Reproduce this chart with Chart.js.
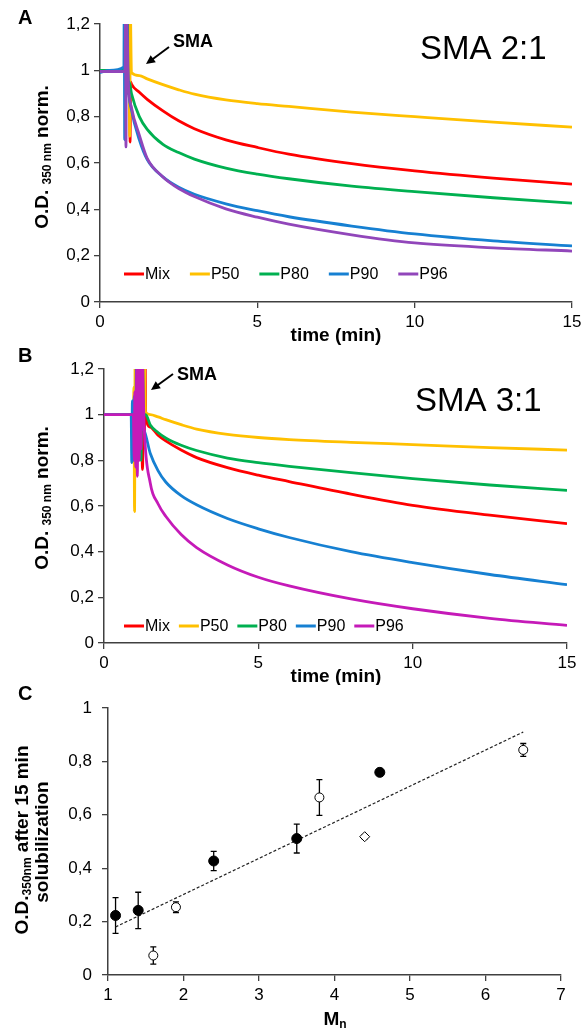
<!DOCTYPE html>
<html>
<head>
<meta charset="utf-8">
<script src="https://cdn.jsdelivr.net/npm/chart.js@4.4.1/dist/chart.umd.min.js"></script>
<style>
  body { margin: 0; background: #fff; }
  #wrap { position: relative; width: 588px; height: 1032px; }
  canvas { position: absolute; left: 0; }
</style>
</head>
<body>
<div id="wrap">
  <canvas id="chartA" width="588" height="345" style="top:0"></canvas>
  <canvas id="chartB" width="588" height="340" style="top:345px"></canvas>
  <canvas id="chartC" width="588" height="347" style="top:685px"></canvas>
</div>
<script>
// ---- panel A: SMA 2:1 (time in min, normalised O.D.)
const mixAT = [0, 0.9, 0.93, 0.955, 0.975, 1.0, 1.25, 1.5, 2, 2.5, 3, 4, 5, 6, 8, 10, 12.5, 15];
const mixAY = [1.0, 1.0, 1.3, 0.69, 0.95, 0.94, 0.905, 0.875, 0.825, 0.782, 0.748, 0.70, 0.667, 0.638, 0.597, 0.566, 0.535, 0.509];
const p50AT = [0, 0.9, 0.92, 0.945, 0.96, 1.0, 1.25, 1.5, 2, 2.5, 3, 4, 5, 6, 8, 10, 12.5, 15];
const p50AY = [1.0, 1.0, 1.3, 0.715, 1.3, 0.99, 0.977, 0.963, 0.938, 0.916, 0.897, 0.872, 0.856, 0.844, 0.82, 0.80, 0.776, 0.755];
const p80AT = [0, 0.85, 0.87, 0.89, 0.93, 1.0, 1.25, 1.5, 2, 2.5, 3, 4, 5, 6, 8, 10, 12.5, 15];
const p80AY = [1.0, 1.0, 1.3, 0.9, 0.95, 0.90, 0.80, 0.745, 0.68, 0.645, 0.617, 0.578, 0.552, 0.532, 0.50, 0.476, 0.45, 0.427];
const p90AT = [0, 0.3, 0.76, 0.77, 0.785, 0.80, 0.9, 1.0, 1.25, 1.5, 2, 2.5, 3, 4, 5, 6, 8, 10, 12.5, 15];
const p90AY = [0.99, 1.0, 1.015, 1.3, 0.70, 1.3, 0.93, 0.83, 0.70, 0.615, 0.54, 0.495, 0.465, 0.424, 0.394, 0.368, 0.328, 0.294, 0.264, 0.242];
const p96AT = [0, 0.8, 0.81, 0.825, 0.84, 0.9, 1.0, 1.25, 1.5, 2, 2.5, 3, 4, 5, 6, 8, 10, 12.5, 15];
const p96AY = [0.995, 0.995, 1.3, 0.67, 1.3, 0.95, 0.84, 0.72, 0.62, 0.54, 0.49, 0.455, 0.402, 0.366, 0.336, 0.29, 0.255, 0.234, 0.22];

// ---- panel B: SMA 3:1
const mixBT = [0, 1.2, 1.25, 1.28, 1.31, 1.33, 1.35, 1.5, 1.75, 2, 2.5, 3, 4, 5, 6, 8, 10, 12.5, 15];
const mixBY = [1.0, 1.0, 0.76, 1.3, 0.92, 1.3, 1.0, 0.945, 0.91, 0.885, 0.845, 0.812, 0.768, 0.735, 0.707, 0.652, 0.603, 0.56, 0.523];
const p50BT = [0, 0.95, 0.97, 0.99, 1.01, 1.04, 1.2, 1.25, 1.3, 1.35, 1.5, 1.75, 2, 2.5, 3, 4, 5, 6, 8, 10, 12.5, 15];
const p50BY = [1.0, 1.0, 1.12, 0.575, 1.3, 0.95, 1.3, 0.95, 1.3, 1.01, 1.0, 0.99, 0.978, 0.956, 0.937, 0.914, 0.90, 0.891, 0.879, 0.869, 0.856, 0.845];
const p80BT = [0, 1.15, 1.2, 1.24, 1.28, 1.35, 1.5, 1.75, 2, 2.5, 3, 4, 5, 6, 8, 10, 12.5, 15];
const p80BY = [1.0, 1.0, 0.8, 1.3, 1.0, 1.0, 0.955, 0.922, 0.898, 0.866, 0.843, 0.81, 0.79, 0.774, 0.746, 0.72, 0.692, 0.668];
const p90BT = [0, 0.88, 0.9, 0.92, 0.95, 0.98, 1.02, 1.06, 1.1, 1.15, 1.2, 1.3, 1.5, 1.75, 2, 2.5, 3, 4, 5, 6, 8, 10, 12.5, 15];
const p90BY = [1.0, 1.0, 0.79, 1.06, 0.8, 1.08, 0.85, 1.3, 0.88, 1.3, 0.98, 0.93, 0.83, 0.755, 0.705, 0.645, 0.605, 0.545, 0.50, 0.462, 0.40, 0.352, 0.30, 0.256];
const p96BT = [0, 0.95, 0.98, 1.0, 1.03, 1.06, 1.08, 1.11, 1.14, 1.17, 1.2, 1.23, 1.3, 1.5, 1.75, 2, 2.5, 3, 4, 5, 6, 8, 10, 12.5, 15];
const p96BY = [1.0, 1.0, 0.8, 1.1, 0.77, 1.2, 0.73, 1.3, 0.8, 1.3, 0.85, 1.3, 0.95, 0.70, 0.61, 0.555, 0.475, 0.418, 0.342, 0.288, 0.25, 0.193, 0.15, 0.108, 0.077];

// ---- panel C: O.D. after 15 min vs Mn
const filledMn = [1.1, 1.4, 2.4, 3.5, 4.6];
const filledOD = [0.223, 0.242, 0.427, 0.511, 0.759];
const filledErr = [0.067, 0.068, 0.036, 0.054, 0];
const openMn = [1.6, 1.9, 3.8, 6.5];
const openOD = [0.073, 0.254, 0.665, 0.843];
const openErr = [0.032, 0.02, 0.067, 0.024];
const diamondMn = [4.4];
const diamondOD = [0.518];
const diamondErr = [0.008];
const trendMn = [1.1, 6.5];
const trendOD = [0.18, 0.91];

const labels = ['Mix', 'P50', 'P80', 'P90', 'P96'];
const colorsA = ['#FF0000', '#FFC000', '#00B050', '#1680D2', '#9146BA'];
const colorsB = ['#FF0000', '#FFC000', '#00B050', '#1680D2', '#C51AB8'];

const FONT = '"Liberation Sans", Arial, sans-serif';
const fmt = v => (Math.round(v * 10) / 10).toString().replace('.', ',');
const pts = (xs, ys) => xs.map((x, i) => ({ x, y: ys[i] }));

// draw a run of text pieces (for subscripts), optionally rotated
function rich(ctx, parts, x, y, angle) {
  ctx.save();
  ctx.translate(x, y);
  ctx.rotate(angle || 0);
  ctx.textBaseline = 'middle';
  ctx.textAlign = 'left';
  ctx.fillStyle = '#000';
  let w = 0;
  parts.forEach(p => { ctx.font = p.f; w += ctx.measureText(p.t).width; });
  let cx = -w / 2;
  parts.forEach(p => { ctx.font = p.f; ctx.fillText(p.t, cx, p.dy || 0); cx += ctx.measureText(p.t).width; });
  ctx.restore();
}

function arrow(ctx, x1, y1, x2, y2) {
  const a = Math.atan2(y2 - y1, x2 - x1);
  ctx.save();
  ctx.strokeStyle = '#000'; ctx.fillStyle = '#000'; ctx.lineWidth = 2;
  ctx.beginPath(); ctx.moveTo(x1, y1); ctx.lineTo(x2 - 6 * Math.cos(a), y2 - 6 * Math.sin(a)); ctx.stroke();
  ctx.beginPath();
  ctx.moveTo(x2, y2);
  ctx.lineTo(x2 - 10 * Math.cos(a - 0.45), y2 - 10 * Math.sin(a - 0.45));
  ctx.lineTo(x2 - 10 * Math.cos(a + 0.45), y2 - 10 * Math.sin(a + 0.45));
  ctx.closePath(); ctx.fill();
  ctx.restore();
}

function decor(d) {
  return {
    id: 'decor',
    afterDraw(chart) {
      const ctx = chart.ctx;
      ctx.save();
      ctx.fillStyle = '#000';
      ctx.textBaseline = 'middle';
      ctx.font = 'bold 20px ' + FONT;
      ctx.fillText(d.letter, 18, d.letterY);
      if (d.sma) {
        ctx.font = 'bold 18px ' + FONT;
        ctx.fillText('SMA', d.sma[0], d.sma[1]);
        arrow(ctx, d.arrow[0], d.arrow[1], d.arrow[2], d.arrow[3]);
        ctx.font = '33px ' + FONT;
        ctx.fillText(d.ratio, d.ratioPos[0], d.ratioPos[1]);
      }
      // legend inside plot area
      if (d.legend) {
        let x = d.legend.x;
        const y = d.legend.y;
        ctx.font = '16px ' + FONT;
        chart.data.datasets.forEach(ds => {
          ctx.strokeStyle = ds.borderColor; ctx.lineWidth = 3;
          ctx.beginPath(); ctx.moveTo(x, y); ctx.lineTo(x + 20, y); ctx.stroke();
          ctx.fillStyle = '#000';
          ctx.fillText(ds.label, x + 21, y + 1);
          x += 21 + ctx.measureText(ds.label).width + d.legend.gap;
        });
      }
      ctx.restore();
      d.titles.forEach(t => rich(ctx, t.parts, t.x, t.y, t.a));
    }
  };
}

function axisStyle(extra) {
  return Object.assign({
    grid: { drawOnChartArea: false, tickLength: 6, color: '#404040', lineWidth: 1.3 },
    border: { color: '#404040', width: 1.5 },
  }, extra);
}

function timeChart(id, T, Y, colors, d, pad) {
  const datasets = labels.map((l, i) => ({
    label: l,
    data: pts(T[i], Y[i]),
    borderColor: colors[i],
    borderWidth: 2.8,
    pointRadius: 0,
    cubicInterpolationMode: 'monotone',
    order: 5 - i
  }));
  return new Chart(document.getElementById(id), {
    type: 'line',
    data: { datasets },
    options: {
      responsive: false, animation: false,
      layout: { padding: { left: 0, right: pad.right, top: 24, bottom: 0 } },
      plugins: { legend: { display: false }, tooltip: { enabled: false } },
      scales: {
        x: axisStyle({
          type: 'linear', min: 0, max: 15,
          ticks: { stepSize: 5, padding: 4, color: '#000', font: { family: FONT, size: 17 } },
          afterFit: s => { s.height = pad.xh; }
        }),
        y: axisStyle({
          min: 0, max: 1.2,
          ticks: { stepSize: 0.2, padding: 4, color: '#000', callback: fmt, font: { family: FONT, size: 17 } },
          afterFit: s => { s.width = pad.left; }
        })
      }
    },
    plugins: [decor(d)]
  });
}

const yTitleTime = y => ({
  x: 43, y, a: -Math.PI / 2,
  parts: [
    { t: 'O.D. ', f: 'bold 19px ' + FONT },
    { t: '350 nm', f: 'bold 12px ' + FONT, dy: 5 },
    { t: ' norm.', f: 'bold 19px ' + FONT }
  ]
});
const xTitleTime = y => ({ x: 336, y, parts: [{ t: 'time (min)', f: 'bold 19px ' + FONT }] });

timeChart('chartA',
  [mixAT, p50AT, p80AT, p90AT, p96AT],
  [mixAY, p50AY, p80AY, p90AY, p96AY], colorsA,
  {
    letter: 'A', letterY: 18,
    sma: [173, 42], arrow: [169, 47, 146, 64],
    ratio: 'SMA 2:1', ratioPos: [420, 50],
    legend: { x: 124, y: 274, gap: 20 },
    titles: [yTitleTime(157), xTitleTime(336)]
  },
  { left: 100, right: 16, xh: 43 });

timeChart('chartB',
  [mixBT, p50BT, p80BT, p90BT, p96BT],
  [mixBY, p50BY, p80BY, p90BY, p96BY], colorsB,
  {
    letter: 'B', letterY: 11,
    sma: [177, 30], arrow: [173, 29, 151, 45],
    ratio: 'SMA 3:1', ratioPos: [415, 57],
    legend: { x: 124, y: 281, gap: 9 },
    titles: [yTitleTime(153), xTitleTime(332)]
  },
  { left: 104, right: 21, xh: 42 });

// error bars for panel C, drawn through the chart scales
const errorBars = {
  id: 'errorBars',
  beforeDatasetsDraw(chart) {
    const ctx = chart.ctx, xs = chart.scales.x, ys = chart.scales.y;
    ctx.save();
    ctx.strokeStyle = '#000'; ctx.lineWidth = 1.3;
    chart.data.datasets.forEach(ds => {
      if (!ds.errors) return;
      ds.data.forEach((p, i) => {
        const e = ds.errors[i];
        if (!e) return;
        const px = xs.getPixelForValue(p.x);
        const top = ys.getPixelForValue(p.y + e), bot = ys.getPixelForValue(p.y - e);
        ctx.beginPath();
        ctx.moveTo(px, top); ctx.lineTo(px, bot);
        ctx.moveTo(px - 3, top); ctx.lineTo(px + 3, top);
        ctx.moveTo(px - 3, bot); ctx.lineTo(px + 3, bot);
        ctx.stroke();
      });
    });
    ctx.restore();
  }
};

new Chart(document.getElementById('chartC'), {
  type: 'scatter',
  data: {
    datasets: [
      { data: pts(filledMn, filledOD), errors: filledErr, pointStyle: 'circle', pointRadius: 5,
        backgroundColor: '#000', borderColor: '#000', borderWidth: 1, order: 1 },
      { data: pts(openMn, openOD), errors: openErr, pointStyle: 'circle', pointRadius: 4.5,
        backgroundColor: '#fff', borderColor: '#000', borderWidth: 1, order: 1 },
      { data: pts(diamondMn, diamondOD), errors: diamondErr, pointStyle: 'rectRot', pointRadius: 5,
        backgroundColor: '#fff', borderColor: '#000', borderWidth: 1, order: 1 },
      { type: 'line', data: pts(trendMn, trendOD), borderColor: '#222', borderWidth: 1.2,
        borderDash: [3, 2], pointRadius: 0, order: 2 }
    ]
  },
  options: {
    responsive: false, animation: false,
    layout: { padding: { left: 0, right: 27, top: 23, bottom: 0 } },
    plugins: { legend: { display: false }, tooltip: { enabled: false } },
    scales: {
      x: axisStyle({
        type: 'linear', min: 1, max: 7,
        ticks: { stepSize: 1, padding: 4, color: '#000', font: { family: FONT, size: 17 } },
        afterFit: s => { s.height = 57; }
      }),
      y: axisStyle({
        min: 0, max: 1,
        ticks: { stepSize: 0.2, padding: 10, color: '#000', callback: fmt, font: { family: FONT, size: 17 } },
        afterFit: s => { s.width = 108; }
      })
    }
  },
  plugins: [errorBars, decor({
    letter: 'C', letterY: 9,
    titles: [
      { x: 23, y: 155, a: -Math.PI / 2, parts: [
        { t: 'O.D.', f: 'bold 19px ' + FONT },
        { t: '350nm', f: 'bold 12px ' + FONT, dy: 5 },
        { t: ' after 15 min', f: 'bold 19px ' + FONT }
      ] },
      { x: 43, y: 157, a: -Math.PI / 2, parts: [{ t: 'solubilization', f: 'bold 19px ' + FONT }] },
      { x: 335, y: 335, parts: [
        { t: 'M', f: 'bold 19px ' + FONT },
        { t: 'n', f: 'bold 12px ' + FONT, dy: 5 }
      ] }
    ]
  })]
});
</script>
</body>
</html>
